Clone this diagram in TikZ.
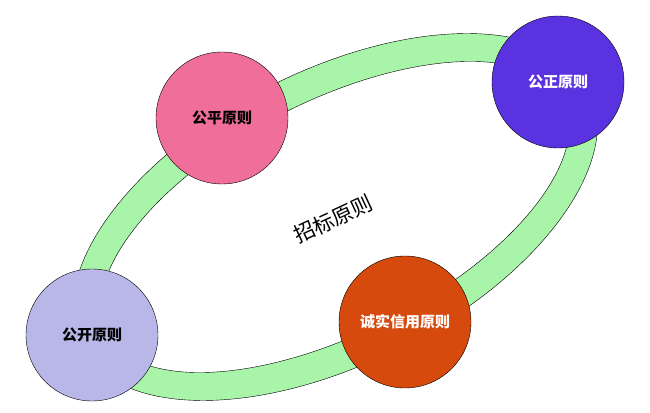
\documentclass[tikz,border=0pt]{standalone}
\usepackage{fontspec}
\newfontfamily\cjk{Noto Sans CJK SC}
\begin{document}
\begin{tikzpicture}[x=1pt,y=1pt,
  ball/.style={circle,draw=black,minimum size=132pt,inner sep=0pt,font=\cjk\bfseries\fontsize{15}{17}\selectfont}]
\useasboundingbox (0,0) rectangle (650,412);
\fill[white] (0,0) rectangle (650,412);
\begin{scope}[shift={(335,195)},rotate=27]
\filldraw[draw=black,even odd rule,fill={rgb,255:red,168;green,244;blue,168}]
  (0,0) ellipse [x radius=285,y radius=146] (0,0) ellipse [x radius=256,y radius=116];
\end{scope}
\node[font=\cjk\fontsize{21}{24}\selectfont,rotate=25] (c) at (333,193) {招标原则};
\node[ball,fill={rgb,255:red,240;green,110;blue,154}] (a) at (222,294) {公平原则};
\node[ball,fill={rgb,255:red,90;green,50;blue,224},text=white] (b) at (558,330) {公正原则};
\node[ball,fill={rgb,255:red,185;green,182;blue,232}] (d) at (92,77) {公开原则};
\node[ball,fill={rgb,255:red,214;green,74;blue,14},text=white] (e) at (405,90) {诚实信用原则};
\end{tikzpicture}
\end{document}
